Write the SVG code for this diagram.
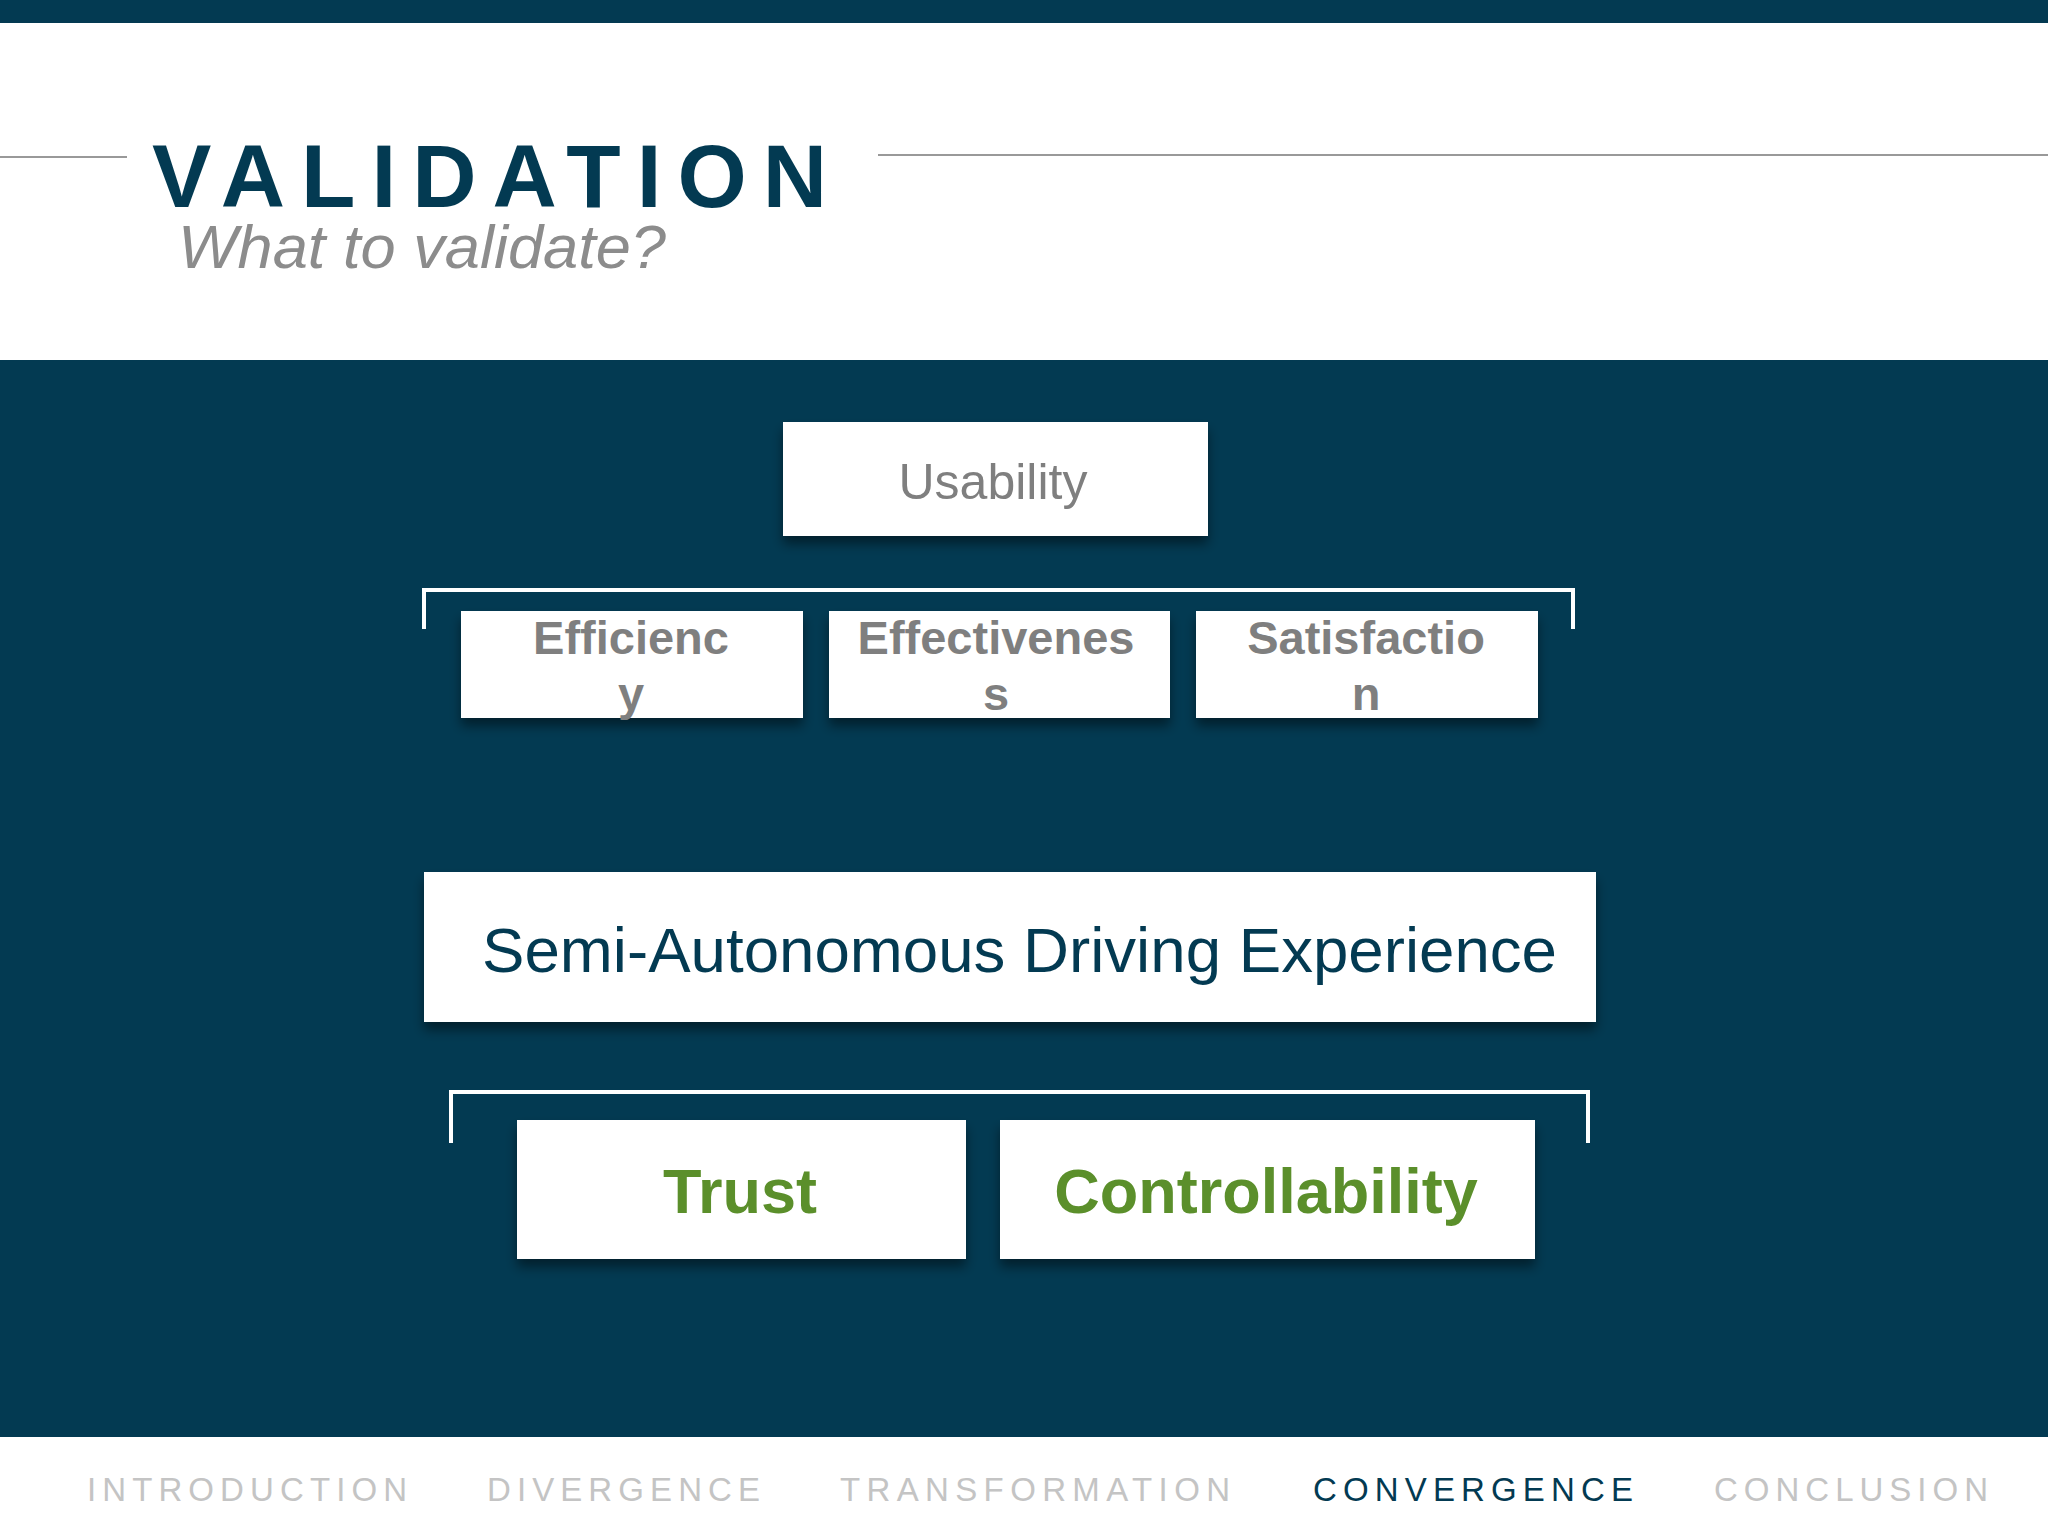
<svg xmlns="http://www.w3.org/2000/svg" width="2048" height="1536" viewBox="0 0 2048 1536">
  <defs>
    <filter id="shadow" x="-10%" y="-20%" width="120%" height="150%">
      <feDropShadow dx="0" dy="8" stdDeviation="6" flood-color="#000000" flood-opacity="0.45"/>
    </filter>
  </defs>
  <style>
    .box { fill: #ffffff; filter: url(#shadow); }
    .bracket { fill: none; stroke: #ffffff; stroke-width: 4; }
    .sub { font-family: "Liberation Sans", Arial, sans-serif; font-weight: bold; font-size: 47px; fill: #7f7f7f; text-anchor: middle; }
    .green { font-family: "Liberation Sans", Arial, sans-serif; font-weight: bold; font-size: 63px; fill: #5b8f2b; text-anchor: middle; }
    .nav { font-family: "Liberation Sans", Arial, sans-serif; font-size: 33px; fill: #c4c4c4; }
  </style>

  <!-- background -->
  <rect x="0" y="0" width="2048" height="1536" fill="#ffffff"/>
  <rect x="0" y="0" width="2048" height="23" fill="#033a52"/>
  <rect x="0" y="360" width="2048" height="1077" fill="#033a52"/>

  <!-- title -->
  <g id="title">
    <line x1="0" y1="157" x2="127" y2="157" stroke="#999999" stroke-width="2"/>
    <line x1="878" y1="155" x2="2048" y2="155" stroke="#999999" stroke-width="2"/>
    <text x="152" y="207" font-family="Liberation Sans, Arial, sans-serif" font-weight="bold" font-size="89" fill="#033a52" textLength="675" lengthAdjust="spacing">VALIDATION</text>
    <text x="178" y="268" font-family="Liberation Sans, Arial, sans-serif" font-style="italic" font-size="62" fill="#8c8c8c" textLength="488" lengthAdjust="spacingAndGlyphs">What to validate?</text>
  </g>

  <!-- connectors (brackets) -->
  <g id="connectors">
    <path class="bracket" d="M424,629 V590 H1573 V629"/>
    <path class="bracket" d="M451,1143 V1092 H1588 V1143"/>
  </g>

  <g id="node-usability">
    <rect class="box" x="783" y="422" width="425" height="114"/>
    <text x="993" y="499" font-family="Liberation Sans, Arial, sans-serif" font-size="50" fill="#7f7f7f" text-anchor="middle">Usability</text>
  </g>

  <g id="node-efficiency">
    <rect class="box" x="461" y="611" width="342" height="107"/>
    <text class="sub" x="631" y="654">Efficienc</text>
    <text class="sub" x="631" y="710">y</text>
  </g>

  <g id="node-effectiveness">
    <rect class="box" x="829" y="611" width="341" height="107"/>
    <text class="sub" x="996" y="654">Effectivenes</text>
    <text class="sub" x="996" y="710">s</text>
  </g>

  <g id="node-satisfaction">
    <rect class="box" x="1196" y="611" width="342" height="107"/>
    <text class="sub" x="1366" y="654">Satisfactio</text>
    <text class="sub" x="1366" y="710">n</text>
  </g>

  <g id="node-semi-autonomous">
    <rect class="box" x="424" y="872" width="1172" height="150"/>
    <text x="482" y="972" font-family="Liberation Sans, Arial, sans-serif" font-size="63" fill="#033a52" textLength="1075" lengthAdjust="spacingAndGlyphs">Semi-Autonomous Driving Experience</text>
  </g>

  <g id="node-trust">
    <rect class="box" x="517" y="1120" width="449" height="139"/>
    <text class="green" x="740" y="1213">Trust</text>
  </g>

  <g id="node-controllability">
    <rect class="box" x="1000" y="1120" width="535" height="139"/>
    <text class="green" x="1266" y="1213">Controllability</text>
  </g>

  <!-- navigation -->
  <g id="nav">
    <text class="nav" x="87" y="1501" textLength="320" lengthAdjust="spacing">INTRODUCTION</text>
    <text class="nav" x="487" y="1501" textLength="273" lengthAdjust="spacing">DIVERGENCE</text>
    <text class="nav" x="840" y="1501" textLength="390" lengthAdjust="spacing">TRANSFORMATION</text>
    <text class="nav" x="1313" y="1501" textLength="320" lengthAdjust="spacing" fill="#033a52" style="fill:#033a52">CONVERGENCE</text>
    <text class="nav" x="1714" y="1501" textLength="274" lengthAdjust="spacing">CONCLUSION</text>
  </g>
</svg>
